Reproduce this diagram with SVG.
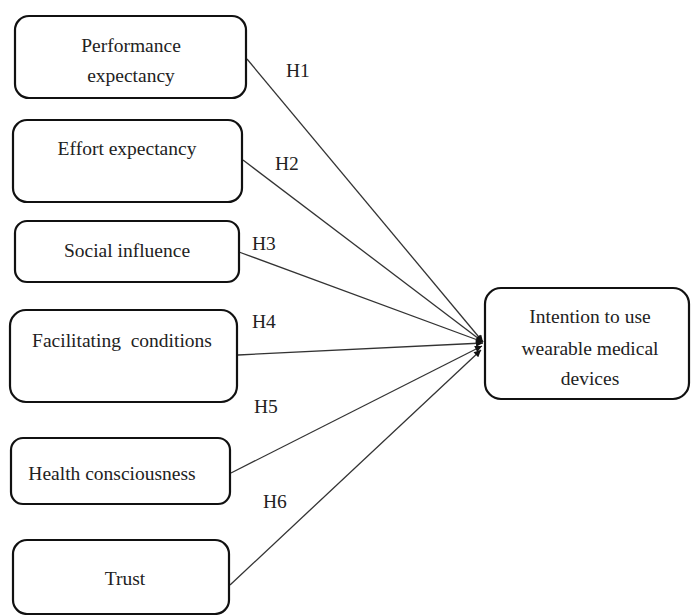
<svg xmlns="http://www.w3.org/2000/svg" width="691" height="615" viewBox="0 0 691 615">
<defs>
<style>
.box{fill:#fff;stroke:#111;stroke-width:2.2}
.t{text-anchor:middle}
.c{stroke:#333;stroke-width:1.3;fill:none;marker-end:url(#ah)}
</style>
<marker id="ah" viewBox="0 0 10 10" refX="10" refY="5" markerWidth="8" markerHeight="7" markerUnits="userSpaceOnUse" orient="auto">
<path d="M0,0 L10,5 L0,10 z" fill="#111"/>
</marker>
</defs>
<rect width="691" height="615" fill="#fff"/>
<g id="connectors">
<line class="c" x1="247" y1="59" x2="483" y2="342"/>
<line class="c" x1="243" y1="160" x2="483" y2="342"/>
<line class="c" x1="239" y1="252" x2="483" y2="342"/>
<line class="c" x1="238" y1="355" x2="483" y2="343"/>
<line class="c" x1="231" y1="473" x2="482" y2="346"/>
<line class="c" x1="230" y1="585" x2="481" y2="350"/>
</g>
<g font-family="Liberation Serif, 'Times New Roman', serif" font-size="19.5" fill="#222">
<g id="labels">
<text x="286" y="77">H1</text>
<text x="275" y="170">H2</text>
<text x="252" y="250">H3</text>
<text x="252" y="328">H4</text>
<text x="254" y="413">H5</text>
<text x="263" y="508">H6</text>
</g>
<g id="n1"><rect class="box" x="15" y="16" width="231" height="82" rx="14"/><text class="t" x="131" y="52">Performance</text><text class="t" x="131" y="82">expectancy</text></g>
<g id="n2"><rect class="box" x="13" y="120" width="229" height="82" rx="14"/><text class="t" x="127" y="155">Effort expectancy</text></g>
<g id="n3"><rect class="box" x="15" y="221" width="224" height="61" rx="12"/><text class="t" x="127" y="257">Social influence</text></g>
<g id="n4"><rect class="box" x="10" y="310" width="227" height="92" rx="16"/><text class="t" x="122" y="347" xml:space="preserve">Facilitating  conditions</text></g>
<g id="n5"><rect class="box" x="11" y="438" width="219" height="66" rx="12"/><text class="t" x="112" y="480">Health consciousness</text></g>
<g id="n6"><rect class="box" x="13" y="540" width="216" height="74" rx="14"/><text class="t" x="125" y="585">Trust</text></g>
<g id="n7"><rect class="box" x="485" y="288" width="204" height="111" rx="16"/><text class="t" x="590" y="323">Intention to use</text><text class="t" x="590" y="355">wearable medical</text><text class="t" x="590" y="385">devices</text></g>
</g>
</svg>
